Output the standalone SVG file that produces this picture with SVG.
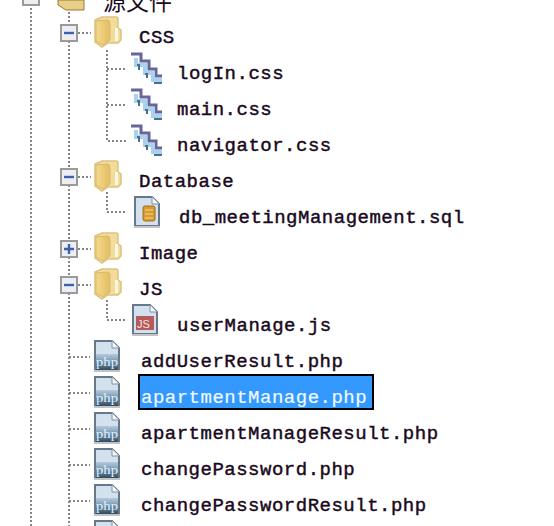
<svg xmlns="http://www.w3.org/2000/svg" xmlns:xlink="http://www.w3.org/1999/xlink" width="554" height="526" viewBox="0 0 554 526">
<style>
text{font-family:"Liberation Mono","Noto Sans CJK SC",monospace;font-size:19px;letter-spacing:.5px;fill:#1a0a20;stroke:#1a0a20;stroke-width:.45px}
.c{fill:none;stroke:#858585;stroke-width:2;stroke-dasharray:2 2}
.b{fill:#eceef3;stroke:#9a9a9a;stroke-width:2}
.s{fill:none;stroke:#3b62a8;stroke-width:2.4}
</style>
<defs>
<linearGradient id="fg" x1="0" x2="1" y1="0" y2="0"><stop offset="0" stop-color="#f4d98c"/><stop offset="1" stop-color="#e2bd62"/></linearGradient>
<linearGradient id="pg" x1="0" x2="0" y1="0" y2="1"><stop offset="0" stop-color="#b5cadd"/><stop offset=".45" stop-color="#7c9ab4"/><stop offset="1" stop-color="#2f4a5e"/></linearGradient>
<g id="folder">
<path d="M8 1H22Q24 1 24 3V12L27 14V24L24 27H14L8 31L1 26V4Z" fill="#f3dc9a" stroke="#dcc282" stroke-width="1.5"/>
<path d="M21 12H24V25H21Z" fill="#fff8e0"/>
<path d="M2 5L14 4Q16 4 16 8V24L9 29L2 25Z" fill="url(#fg)" stroke="#d8b868"/>
</g>
<g id="paper">
<path d="M1 1H18L25 8V30H1Z" fill="#d3e0ed" stroke="#66788a" stroke-width="2"/>
<path d="M18 1V8H25" fill="#f4f6fa" stroke="#8090a0"/>
<rect x="0" y="30" width="26" height="2" fill="#c4c4c4"/>
</g>
<g id="php">
<use href="#paper"/>
<rect x="2" y="14" width="22" height="16" fill="url(#pg)"/>
<text x="2" y="26" textLength="22" lengthAdjust="spacingAndGlyphs" style="font-size:13px;fill:#dff0ff;stroke:none;letter-spacing:0;font-family:'Liberation Serif',serif">php</text>
</g>
<g id="css">
<path d="M1 2H11V9H19V17H26V24H32" fill="none" stroke="#66669c" stroke-width="3"/>
<path d="M6 6V13H15V21H23V28H32" fill="none" stroke="#a9d2ee" stroke-width="4"/>
<path d="M7 13H9V18M15 22H17V26M24 31H32" fill="none" stroke="#47708f" stroke-width="2"/>
</g>
</defs>
<g id="connectors">
<path class="c" d="M31 0V526M69 12V25M69 41V168M69 185V240M69 257V276M69 293V526M107 50V141H127M107 69H127M107 105H127M78 33H91M78 177H91M78 249H91M78 285H91M107 192V212H126M107 300V320H126M69 357H90M69 393H90M69 429H90M69 465H90M69 501H90"/>
</g>
<g id="root">
<rect class="b" x="23" y="-11" width="16" height="16"/>
<path d="M58 0H84V10H66L58 5Z" fill="#e8cf88" stroke="#9a7a30"/>
<text x="103" y="10" style="font-size:23px;stroke:none;letter-spacing:0">源文件</text>
</g>
<g id="node-css"><rect class="b" x="61" y="25" width="16" height="16"/><path class="s" d="M64 33H74"/><use href="#folder" x="94" y="16"/><text x="139" y="43">CSS</text></g>
<g id="node-login"><use href="#css" x="130" y="52"/><text x="177" y="79">logIn.css</text></g>
<g id="node-main"><use href="#css" x="130" y="88"/><text x="177" y="115">main.css</text></g>
<g id="node-navigator"><use href="#css" x="130" y="124"/><text x="177" y="151">navigator.css</text></g>
<g id="node-database"><rect class="b" x="61" y="169" width="16" height="16"/><path class="s" d="M64 177H74"/><use href="#folder" x="94" y="160"/><text x="139" y="187">Database</text></g>
<g id="node-sql"><use href="#paper" x="134" y="196"/><rect x="143" y="206" width="12" height="15" rx="2" fill="#d99a30" stroke="#a86c14"/><path d="M145 210H153M145 214H153M145 218H153" stroke="#f5d890"/><text x="179" y="223">db_meetingManagement.sql</text></g>
<g id="node-image"><rect class="b" x="61" y="241" width="16" height="16"/><path class="s" d="M64 249H74M69 244V254"/><use href="#folder" x="94" y="232"/><text x="139" y="259">Image</text></g>
<g id="node-js"><rect class="b" x="61" y="277" width="16" height="16"/><path class="s" d="M64 285H74"/><use href="#folder" x="94" y="268"/><text x="139" y="295">JS</text></g>
<g id="node-usermanage"><use href="#paper" x="132" y="304"/><rect x="136" y="316" width="18" height="14" fill="#b85a5a"/><text x="137" y="328" style="font-size:11px;fill:#f4e4e4;stroke:none;letter-spacing:0;font-family:'Liberation Sans',sans-serif">JS</text><text x="177" y="331">userManage.js</text></g>
<g id="node-adduser"><use href="#php" x="94" y="340"/><text x="141" y="367">addUserResult.php</text></g>
<g id="node-apartment"><use href="#php" x="94" y="376"/><rect x="139" y="375" width="234" height="34" fill="#3399ff" stroke="#000" stroke-width="2"/><text x="141" y="403" style="fill:#f0f8ff;stroke:#f0f8ff;stroke-width:.2px">apartmentManage.php</text></g>
<g id="node-apartmentresult"><use href="#php" x="94" y="412"/><text x="141" y="439">apartmentManageResult.php</text></g>
<g id="node-changepw"><use href="#php" x="94" y="448"/><text x="141" y="475">changePassword.php</text></g>
<g id="node-changepwresult"><use href="#php" x="94" y="484"/><text x="141" y="511">changePasswordResult.php</text></g>
<g id="node-next"><use href="#php" x="94" y="520"/></g>
</svg>
